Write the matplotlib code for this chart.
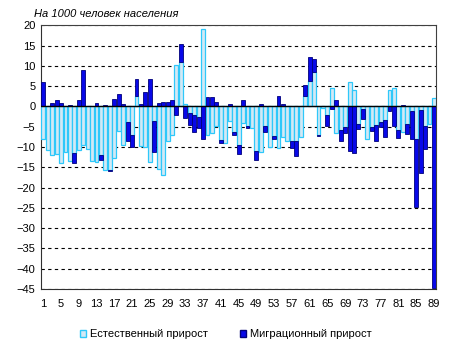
import matplotlib
matplotlib.use("Agg")
import matplotlib.pyplot as plt
import numpy as np
from matplotlib.patches import Patch

plt.rcParams["font.family"] = ["Liberation Sans", "DejaVu Sans"]

# regions numbered 1..89
regions = list(range(1, 90))

natural = [
    -8.1, -10.8, -12.0, -11.8, -14.0, -11.3, -13.5, -11.4, -10.8, -9.5,
    -10.5, -13.5, -13.8, -12.0, -15.6, -15.6, -12.8, -6.1, -9.4, -3.9,
    -7.1, 2.6, -9.7, -10.0, -13.6, -3.5, -15.3, -17.0, -8.6, -7.0,
    10.2, 11.0, 0.5, -1.5, -2.0, -2.5, 19.1, -7.1, -6.6, -4.7,
    -8.2, -9.1, -3.5, -6.3, -9.5, -4.1, -4.8, -5.4, -10.9, -11.3,
    -4.8, -10.0, -7.2, -10.3, -7.6, -8.6, -8.6, -8.4, -7.6, 2.6,
    6.3, 8.5, -7.0, -0.3, -2.0, 4.5, -6.6, -5.8, -5.1, 6.0,
    4.0, -4.4, -0.6, -8.1, -5.1, -4.6, -3.9, -3.4, 4.0, 4.5,
    -5.7, -6.2, -4.4, -1.1, -7.9, -0.9, -4.9, -4.2, 2.2,
]

migration = [
    6.1, 0.0, 0.8, 1.5, 0.8, 0.0, 0.3, -2.5, 1.6, 9.0,
    0.0, 0.0, 0.8, -1.3, 0.3, -0.4, 1.8, 3.0, 0.5, -4.5,
    -3.0, 4.1, 0.5, 3.6, 6.8, -7.8, 0.8, 1.0, 1.2, 1.5,
    -2.0, 4.5, -2.8, -3.0, -4.2, -2.7, -8.0, 2.3, 2.3, 1.0,
    -0.9, 0.0, 0.5, -0.7, -2.3, 1.6, -0.4, 0.0, -2.2, 0.5,
    -1.4, 0.0, -0.8, 2.5, 0.5, 0.0, -1.7, -3.7, 0.0, 2.7,
    5.9, 3.2, -0.4, 0.0, -2.7, -0.7, 1.5, -2.6, -1.5, -10.9,
    -11.5, -1.2, -2.4, 0.0, -0.9, -3.8, -1.2, -4.1, -1.2, -4.8,
    -2.0, 0.3, -2.5, -6.8, -17.0, -15.4, -5.5, 0.0, -44.7,
]

x = np.array(regions, dtype=float)
nat = np.array(natural)
mig = np.array(migration)
# stacked like Excel: positives on positives, negatives on negatives
mig_bottom = np.where(np.sign(mig) == np.sign(nat), nat, 0.0)

fig = plt.figure(figsize=(4.51, 3.58), dpi=100)
ax = fig.add_axes([0.091, 0.193, 0.876, 0.736])

light_face = "#d3e9f5"
light_edge = "#2ec8fa"
dark_face = "#0808e8"
dark_edge = "#00007a"

ax.bar(x, nat, width=0.88, color=light_face, edgecolor=light_edge,
       linewidth=0.9, zorder=3)
ax.bar(x, mig, bottom=mig_bottom, width=0.88, color=dark_face,
       edgecolor=dark_edge, linewidth=0.6, zorder=4)

ax.set_xlim(0.5, 89.5)
ax.set_ylim(-45, 20)
ax.set_yticks(np.arange(-45, 21, 5))
ax.set_xticks(regions[::4])
ax.tick_params(axis="both", length=0, labelsize=8, pad=7)
ax.tick_params(axis="y", pad=4)
ax.yaxis.grid(True, linestyle=(0, (3, 3)), color="black", linewidth=0.8)
ax.set_axisbelow(True)
ax.axhline(0, color="black", linewidth=1.0, zorder=5)

for side in ["left", "bottom"]:
    ax.spines[side].set_color("#303030")
for side in ["top", "right"]:
    ax.spines[side].set_color("#404040")

fig.text(0.075, 0.96, "На 1000 человек населения", style="italic",
         fontsize=8, ha="left", va="center")

handles = [
    Patch(facecolor=light_face, edgecolor=light_edge, label="Естественный прирост"),
    Patch(facecolor=dark_face, edgecolor=dark_edge, label="Миграционный прирост"),
]
fig.legend(handles=handles, loc="center", bbox_to_anchor=(0.5, 0.067), ncol=2,
           frameon=False, fontsize=8, handlelength=0.6, handleheight=0.6,
           handletextpad=0.3, columnspacing=2.9)

fig.savefig("out.png", dpi=100)
